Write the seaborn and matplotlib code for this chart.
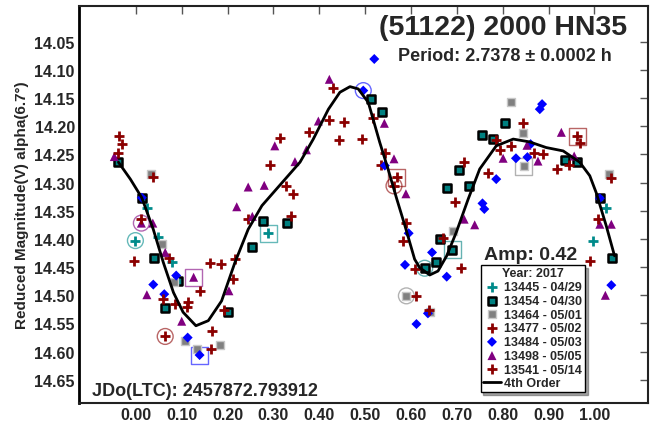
import matplotlib
matplotlib.use('Agg')
import matplotlib.pyplot as plt
import matplotlib.ticker as mticker
import pandas as pd
import seaborn as sns

# lightcurve points (phase, reduced magnitude) per session
ph_13445 = [0.025, -0.001, 0.049, 0.078, 0.289, 1.025, 0.998]
mag_13445 = [14.346, 14.403, 14.396, 14.441, 14.390, 14.346, 14.404]

ph_13454 = [-0.038, 0.013, 0.039, 0.092, 0.064, 0.202, 0.278, 0.253, 0.329, 0.512, 0.536,
            0.663, 0.690, 0.704, 0.679, 0.726, 0.805, 0.755, 0.779, 0.935, 0.963, 1.012,
            1.038, 0.654, 0.630]
mag_13454 = [14.264, 14.328, 14.434, 14.475, 14.523, 14.529, 14.368, 14.415, 14.371, 14.152, 14.175,
             14.400, 14.419, 14.278, 14.310, 14.306, 14.195, 14.216, 14.223, 14.260, 14.263, 14.328,
             14.434, 14.441, 14.452]

ph_13464 = [0.033, 0.058, 0.083, 0.108, 0.184, 0.133, 0.692, 0.819, 0.844, 0.846, 1.032, 0.590, 0.641]
mag_13464 = [14.285, 14.409, 14.477, 14.581, 14.588, 14.595, 14.386, 14.157, 14.212, 14.271, 14.285,
             14.501, 14.529]

ph_13477 = [0.064, 0.072, 0.162, 0.186, 0.216, 0.211, 0.139, 0.086, 0.113, 0.112, 0.192, 0.166,
            0.163, 0.244, 0.293, 0.429, 0.518, 0.421, 0.455, 0.378, 0.443, 0.493, 0.314, 0.543,
            0.534, 0.569, 0.327, 0.343, 0.338]
mag_13477 = [14.573, 14.433, 14.443, 14.445, 14.436, 14.471, 14.492, 14.516, 14.512, 14.520, 14.526,
             14.564, 14.595, 14.365, 14.269, 14.133, 14.186, 14.189, 14.193, 14.211, 14.225, 14.223,
             14.221, 14.247, 14.269, 14.291, 14.307, 14.321, 14.359]

ph_13484 = [0.013, 0.088, 0.038, 0.062, 0.113, 0.139, 0.520, 0.496, 0.543, 0.595, 0.646, 0.886,
            0.881, 0.861, 0.829, 0.854, 0.786, 0.756, 0.760, 1.012, 0.587, 0.678, 0.637, 0.612,
            1.037]
mag_13484 = [14.327, 14.465, 14.481, 14.498, 14.575, 14.606, 14.081, 14.137, 14.270, 14.390, 14.424,
             14.161, 14.170, 14.232, 14.257, 14.255, 14.294, 14.337, 14.347, 14.328, 14.446, 14.467,
             14.532, 14.551, 14.482]

ph_13498 = [-0.047, 0.012, 0.037, 0.064, 0.126, 0.024, 0.203, 0.100, 0.220, 0.245, 0.280, 0.254,
            0.303, 0.422, 0.542, 0.398, 0.372, 0.347, 0.563, 0.589, 0.716, 0.928, 0.853, 0.801,
            0.877, 0.956, 1.012, 1.037, 0.739, 1.024]
mag_13498 = [14.254, 14.372, 14.372, 14.424, 14.468, 14.499, 14.492, 14.546, 14.343, 14.308, 14.305,
             14.360, 14.235, 14.117, 14.195, 14.191, 14.242, 14.263, 14.258, 14.320, 14.365, 14.211,
             14.234, 14.257, 14.262, 14.253, 14.374, 14.374, 14.375, 14.500]

ph_13541 = [-0.036, -0.030, -0.039, 0.037, 0.012, -0.005, 0.060, 0.563, 0.589, 0.583, 0.669, 0.716,
            0.697, 0.844, 0.786, 0.963, 0.968, 0.794, 0.819, 0.868, 0.888, 0.944, 0.919, 1.036,
            0.767, 1.008, 0.991, 0.609, 0.710, 0.612, 0.639]
mag_13541 = [14.217, 14.232, 14.248, 14.291, 14.365, 14.439, 14.507, 14.306, 14.372, 14.403, 14.398,
             14.264, 14.334, 14.195, 14.224, 14.218, 14.230, 14.243, 14.235, 14.247, 14.250, 14.269,
             14.276, 14.292, 14.284, 14.365, 14.439, 14.453, 14.451, 14.502, 14.526]

# 4th order Fourier fit
fit_phase = [-0.038, -0.012, 0.013, 0.038, 0.060, 0.082, 0.103, 0.131, 0.158, 0.187, 0.216, 0.245,
             0.275, 0.303, 0.358, 0.387, 0.420, 0.445, 0.467, 0.485, 0.507, 0.532, 0.550, 0.569,
             0.587, 0.608, 0.619, 0.641, 0.659, 0.678, 0.699, 0.725, 0.750, 0.786, 0.823, 0.859,
             0.895, 0.932, 0.968, 0.990, 1.004, 1.026, 1.044]
fit_mag = [14.264, 14.294, 14.327, 14.383, 14.442, 14.495, 14.530, 14.554, 14.545, 14.510, 14.442,
           14.383, 14.341, 14.315, 14.264, 14.223, 14.170, 14.140, 14.130, 14.134, 14.158, 14.229,
           14.276, 14.329, 14.377, 14.436, 14.451, 14.464, 14.457, 14.430, 14.388, 14.329, 14.276,
           14.235, 14.223, 14.228, 14.238, 14.244, 14.264, 14.288, 14.318, 14.377, 14.430]

# first / last point markers of each session
circ_phase = [-0.001, 0.012, 0.064, 0.496, 0.563, 0.630, 0.590]
circ_mag = [14.403, 14.372, 14.573, 14.137, 14.306, 14.452, 14.501]
circ_series = ['13445 - 04/29', '13498 - 05/05', '13477 - 05/02', '13484 - 05/03',
               '13541 - 05/14', '13454 - 04/30', '13464 - 05/01']
box_phase = [0.289, 0.126, 0.569, 0.139, 0.963, 0.690, 0.846]
box_mag = [14.390, 14.468, 14.291, 14.606, 14.218, 14.419, 14.271]
box_series = ['13445 - 04/29', '13498 - 05/05', '13477 - 05/02', '13484 - 05/03',
              '13541 - 05/14', '13454 - 04/30', '13464 - 05/01']

series = {
    '13445 - 04/29': (ph_13445, mag_13445),
    '13454 - 04/30': (ph_13454, mag_13454),
    '13464 - 05/01': (ph_13464, mag_13464),
    '13477 - 05/02': (ph_13477, mag_13477),
    '13484 - 05/03': (ph_13484, mag_13484),
    '13498 - 05/05': (ph_13498, mag_13498),
    '13541 - 05/14': (ph_13541, mag_13541),
}

styles = {
    '13445 - 04/29': dict(marker='+', color='#008b8b', edgecolor='#008b8b', s=60, linewidth=2),
    '13454 - 04/30': dict(marker='s', color='#008080', edgecolor='black', s=36, linewidth=1.8),
    '13464 - 05/01': dict(marker='s', color='#808080', edgecolor='#c8c8c8', s=32, linewidth=1),
    '13477 - 05/02': dict(marker='+', color='#8b0000', edgecolor='#8b0000', s=60, linewidth=2),
    '13484 - 05/03': dict(marker='D', color='#0000ff', edgecolor='none', s=26, linewidth=0),
    '13498 - 05/05': dict(marker='^', color='#800080', edgecolor='none', s=42, linewidth=0),
    '13541 - 05/14': dict(marker='+', color='#8b0000', edgecolor='#8b0000', s=60, linewidth=2),
}

sns.set_style('white')
plt.rcParams['font.family'] = ['Liberation Sans', 'DejaVu Sans']
plt.rcParams['font.weight'] = 'bold'
plt.rcParams['axes.labelweight'] = 'bold'

fig = plt.figure(figsize=(6.55, 4.31), dpi=100)
ax = fig.add_axes([79 / 655, 1 - 404 / 431, 569 / 655, 397 / 431])

for name, (ph, mag) in series.items():
    df = pd.DataFrame({'phase': ph, 'mag': mag})
    sns.scatterplot(data=df, x='phase', y='mag', ax=ax, label=name, zorder=3, **styles[name])

# session start / end highlights
for ph, mag, name in zip(circ_phase, circ_mag, circ_series):
    ax.scatter(ph, mag, marker='o', s=130, facecolors='none',
               edgecolors=styles[name]['color'], linewidths=1, alpha=0.6, zorder=2)
for ph, mag, name in zip(box_phase, box_mag, box_series):
    ax.scatter(ph, mag, marker='s', s=150, facecolors='none',
               edgecolors=styles[name]['color'], linewidths=1, alpha=0.6, zorder=2)

sns.lineplot(x=fit_phase, y=fit_mag, ax=ax, color='black', linewidth=2, sort=False,
             label='4th Order', zorder=4)

ax.set_xlim(-0.124, 1.117)
ax.set_ylim(14.691, 13.987)
ax.xaxis.set_major_locator(mticker.FixedLocator([i / 10 for i in range(11)]))
ax.yaxis.set_major_locator(mticker.FixedLocator([14.05 + 0.05 * i for i in range(13)]))
ax.xaxis.set_major_formatter(mticker.FormatStrFormatter('%.2f'))
ax.yaxis.set_major_formatter(mticker.FormatStrFormatter('%.2f'))
ax.tick_params(direction='in', length=5.5, width=1, color='#555555', top=True, right=True,
               labelsize=11.5, pad=3)
ax.set_xlabel('')
ax.set_ylabel('Reduced Magnitude(V) alpha(6.7°)', fontsize=11, labelpad=4)

for side in ['top', 'right', 'bottom']:
    ax.spines[side].set_linewidth(1.5)
    ax.spines[side].set_color('#222222')
ax.spines['left'].set_linewidth(2)
ax.spines['left'].set_color('black')

ax.text(0.963, 0.946, '(51122) 2000 HN35', transform=ax.transAxes, ha='right', va='center',
        fontsize=20.5, fontweight='bold')
ax.text(0.937, 0.876, 'Period: 2.7378 ± 0.0002 h', transform=ax.transAxes, ha='right',
        va='center', fontsize=13, fontweight='bold')
ax.text(0.793, 0.375, 'Amp: 0.42', transform=ax.transAxes, ha='center', va='center',
        fontsize=14, fontweight='bold')
ax.text(0.023, 0.032, 'JDo(LTC): 2457872.793912', transform=ax.transAxes, ha='left',
        va='center', fontsize=13, fontweight='bold')

leg = ax.legend(loc='lower left', bbox_to_anchor=(0.706, 0.028), title='Year: 2017',
                prop={'weight': 'bold', 'size': 9}, title_fontproperties={'weight': 'bold', 'size': 9},
                frameon=True, fancybox=False, shadow=True, borderpad=0.2, labelspacing=0.14,
                handlelength=1.4, handletextpad=0.3, borderaxespad=0)
leg.get_frame().set_edgecolor('black')
leg.get_frame().set_linewidth(1)
leg.get_frame().set_alpha(1)

plt.savefig('out.png', dpi=100)
plt.close()
